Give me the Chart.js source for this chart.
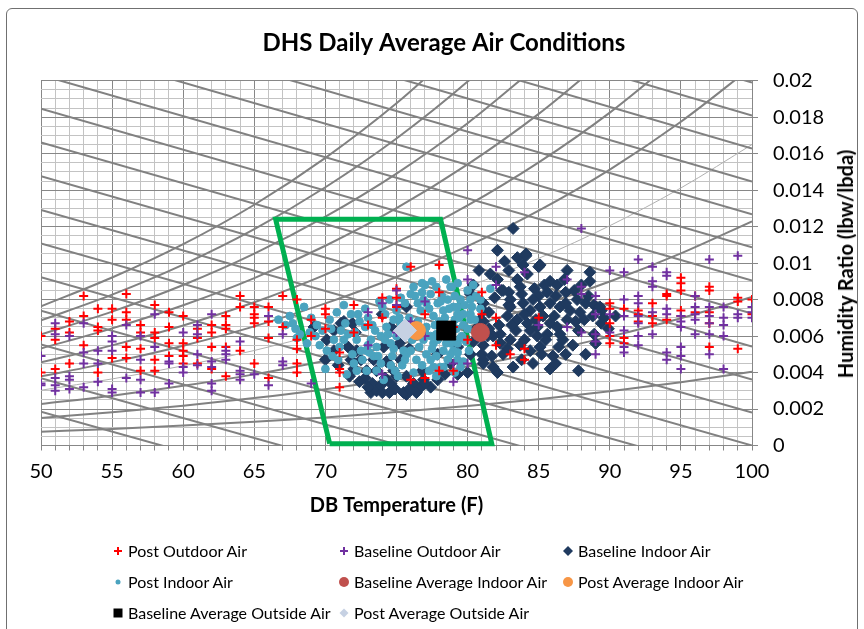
<!DOCTYPE html>
<html><head><meta charset="utf-8">
<script src="https://cdn.jsdelivr.net/npm/chart.js@4.4.0/dist/chart.umd.min.js"></script>
<style>
html,body{margin:0;padding:0;background:#fff;}
#wrap{position:relative;width:864px;height:629px;overflow:hidden;font-family:Lato,'Open Sans',sans-serif;background:#fff;}
#frame{position:absolute;left:6px;top:8px;width:852px;height:660px;border:1px solid #707070;border-radius:6px;box-sizing:border-box;}
#c{position:absolute;left:0;top:0;}
#ytitle{position:absolute;left:845px;top:264px;transform:translate(-50%,-50%) rotate(-90deg);white-space:nowrap;font-weight:bold;font-size:20px;color:#000;}
.lgt{position:absolute;font-size:16px;color:#000;white-space:nowrap;line-height:20px;height:20px;}
.lgm{position:absolute;width:16px;height:16px;}
</style></head><body>
<div id="wrap"><div id="frame"></div><canvas id="c" width="864" height="629"></canvas><div id="ytitle">Humidity Ratio (lbw/lbda)</div><div id="legend"></div></div>
<script>
// ---------------- DATA ----------------
const chartTitle = 'DHS Daily Average Air Conditions';
const xTitle = 'DB Temperature (F)';
const seriesNames = ['Post Outdoor Air','Baseline Outdoor Air','Baseline Indoor Air','Post Indoor Air','Baseline Average Indoor Air','Post Average Indoor Air','Baseline Average Outside Air','Post Average Outside Air'];

// [dry bulb F, humidity ratio lbw/lbda]
const postOutdoorAir = [
[50,.0060],[50,.0040],[51,.0064],[51,.0058],[51,.0042],[52,.0068],[52,.0062],[52,.0045],
[53,.0082],[53,.0071],[53,.0055],[54,.0075],[54,.0065],[54,.0063],[54,.0040],[55,.0075],[55,.0069],[55,.0048],
[56,.0083],[56,.0073],[56,.0069],[56,.0054],[56,.0048],[57,.0066],[57,.0062],[57,.0053],[57,.0041],
[58,.0077],[58,.0062],[58,.0059],[58,.0047],[58,.0041],[59,.0073],[59,.0065],[59,.0056],[59,.0049],
[60,.0071],[60,.0056],[60,.0052],[60,.0049],[60,.0045],[61,.0064],[61,.0059],[61,.0045],
[62,.0066],[62,.0062],[62,.0054],[62,.0042],[63,.0071],[63,.0066],[63,.0064],[63,.0054],[63,.0038],
[64,.0082],[64,.0076],[64,.0052],[65,.0076],[65,.0072],[65,.0070],[65,.0067],[65,.0045],
[66,.0076],[66,.0068],[66,.0059],[66,.0037],[67,.0082],[67,.0065],
[68,.0080],[68,.0058],[68,.0053],[68,.0045],[68,.0040],[69,.0069],[69,.0060],
[70,.0075],[70,.0072],[70,.0064],[71,.0051],[71,.0042],[71,.0040],[71,.0032],[72,.0077],[72,.0062],
[73,.0066],[74,.0081],[74,.0070],[75,.0086],[75,.0081],[75,.0076],[76,.0098],[76,.0036],[77,.0037],[77,.0072],
[78,.0099],[78,.0084],[78,.0041],[79,.0041],[79,.0065],[80,.0058],[81,.0084],[81,.0072],[82,.0070],[82,.0055],
[83,.0050],[84,.0053],[84,.0047],[85,.0070],
[90,.0078],[90,.0075],[90,.0067],[90,.0060],[90,.0056],[91,.0075],[91,.0059],[91,.0056],
[92,.0074],[92,.0072],[92,.0068],[93,.0078],[93,.0071],[93,.0067],[94,.0083],[94,.0082],[94,.0069],
[95,.0092],[95,.0089],[95,.0085],[95,.0074],[95,.0071],[96,.0082],[96,.0073],
[97,.0087],[97,.0085],[97,.0073],[97,.0067],[97,.0054],[99,.0081],[99,.0079],[99,.0053],[100,.0080],[100,.0072]
];
const baselineOutdoorAir = [
[50,.0049],[50,.0034],[50,.0033],[51,.0067],[51,.0061],[51,.0037],[51,.0033],[51,.0030],
[52,.0060],[52,.0038],[52,.0036],[52,.0031],[53,.0067],[53,.0051],[53,.0045],[53,.0032],
[54,.0052],[54,.0045],[54,.0035],[55,.0060],[55,.0057],[55,.0052],[55,.0031],[55,.0029],
[56,.0066],[56,.0037],[57,.0060],[57,.0047],[57,.0036],[57,.0029],[58,.0072],[58,.0054],[58,.0029],
[59,.0046],[59,.0045],[59,.0034],[60,.0062],[60,.0043],[60,.0040],[61,.0066],[61,.0061],[61,.0050],[61,.0044],
[62,.0072],[62,.0046],[62,.0043],[62,.0034],[62,.0030],[63,.0052],[63,.0050],[63,.0047],
[64,.0057],[64,.0041],[64,.0039],[64,.0036],[65,.0039],[66,.0071],[66,.0033],[67,.0061],[67,.0046],[67,.0044],
[69,.0034],[73,.0073],[73,.0055],[74,.0078],[74,.0039],[75,.0085],[75,.0077],[75,.0062],[76,.0068],
[77,.0079],[77,.0060],[79,.0035],[79,.0045],[80,.0107],[80,.0091],[80,.0045],[82,.0098],[82,.0088],
[84,.0095],[85,.0066],[87,.0091],[87,.0065],[88,.0119],[88,.0087],[88,.0083],[88,.0062],
[89,.0082],[89,.0072],[89,.0061],[89,.0057],[89,.0050],[90,.0096],[90,.0072],[90,.0062],
[91,.0095],[91,.0080],[91,.0071],[91,.0063],[91,.0054],[91,.0051],
[92,.0102],[92,.0082],[92,.0078],[92,.0071],[92,.0067],[92,.0060],[92,.0055],
[93,.0098],[93,.0090],[93,.0087],[93,.0073],[93,.0061],[94,.0095],[94,.0093],[94,.0075],[94,.0072],[94,.0051],[94,.0047],
[95,.0071],[95,.0068],[95,.0065],[95,.0054],[95,.0049],[95,.0042],[96,.0082],[96,.0076],[96,.0072],[96,.0069],[96,.0061],
[97,.0102],[97,.0076],[97,.0071],[97,.0067],[97,.0061],[97,.0050],[98,.0076],[98,.0070],[98,.0066],[98,.0060],[98,.0042],
[99,.0104],[99,.0072],[99,.0070],[100,.0076],[100,.0073],[100,.0070]
];
const baselineIndoorAir = [
[83.2,.0119],[82.1,.0107],[84.1,.0105],[83.5,.0103],[80.8,.0096],[82.9,.0096],[84.2,.0094],[85.0,.0098],[82.1,.0091],[83.5,.0091],
[85.8,.0090],[87.0,.0096],[88.6,.0095],[88.6,.0090],[80.2,.0083],[82.4,.0085],[82.9,.0084],[83.8,.0083],[85.0,.0082],[85.6,.0084],
[86.3,.0088],[86.9,.0084],[87.7,.0080],[88.3,.0078],[88.9,.0077],[89.4,.0074],[89.4,.0067],[81.1,.0078],[81.5,.0073],[82.9,.0077],
[84.4,.0074],[85.1,.0076],[85.8,.0078],[86.5,.0076],[87.2,.0074],[87.9,.0073],[82.8,.0071],[83.5,.0069],[84.2,.0067],[84.8,.0069],
[85.3,.0071],[85.8,.0067],[86.3,.0065],[87.0,.0069],[87.8,.0063],[83.4,.0063],[84.4,.0063],[84.9,.0060],[85.6,.0061],[86.5,.0061],
[82.3,.0061],[81.8,.0060],[81.1,.0055],[82.8,.0053],[83.7,.0055],[84.4,.0052],[85.1,.0054],[86.0,.0049],[86.9,.0050],[81.0,.0050],
[81.7,.0049],[83.8,.0047],[83.2,.0043],[82.1,.0040],[85.8,.0042],[87.8,.0041],[80.0,.0040],[81.1,.0045],[83.0,.0080],[83.9,.0078],
[84.6,.0080],[84.0,.0072],[84.9,.0065],[85.5,.0058],[86.1,.0071],[86.7,.0058],[83.1,.0066],[82.2,.0066],[81.5,.0064],[84.0,.0058],
[85.2,.0050],[87.4,.0055],[88.2,.0069],[88.8,.0071],[89.6,.0070],[86.2,.0082],[87.5,.0085],[88.0,.0088],[84.1,.0104],[85.1,.0099],
[90.4,.0071],[89.3,.0076],[88.9,.0061],[82.5,.0085],[83.0,.0076],[80.9,.0069],[81.4,.0060],[82.3,.0056],[81.1,.0047],[81.8,.0043],
[80.2,.0050],[79.3,.0054],[77.9,.0050],[76.9,.0036],[75.7,.0028],[81.1,.0074],[81.1,.0068],[80.6,.0064],[80.4,.0057],
[84.7,.0086],[85.4,.0088],[83.7,.0087],[86.8,.0091],[87.6,.0068],[86.4,.0054],[83.0,.0058],[82.5,.0050],[84.6,.0045],[86.2,.0045],
[88.3,.0050],[89.0,.0056],[83.9,.0099],[82.6,.0101],[81.6,.0094],[80.4,.0088],[81.9,.0081],[86.9,.0078],[89.9,.0064],[88.5,.0082],
[69.2,.0065],[70.0,.0047],[70.1,.0058],[70.6,.0063],[71.1,.0067],[71.3,.0068],[71.9,.0067],[72.1,.0062],[71.6,.0054],[72.2,.0052],
[71.8,.0047],[72.0,.0042],[72.5,.0047],[72.8,.0037],[73.3,.0034],[73.2,.0029],[73.6,.0030],[74.0,.0029],[74.5,.0029],[74.6,.0034],
[75.0,.0038],[75.5,.0029],[75.7,.0038],[76.2,.0034],[76.7,.0032],[77.4,.0032],[75.3,.0047],[74.0,.0072],[74.6,.0065],[75.7,.0076],
[75.9,.0053],[75.2,.0056],[74.1,.0054],[73.4,.0047],[79.3,.0039],[72.9,.0041],[73.6,.0041],[74.2,.0037],[74.8,.0041],
[73.0,.0032],[73.9,.0033],[74.9,.0031],[75.9,.0031],[76.4,.0029],[77.0,.0034],[77.9,.0036],[78.4,.0039],[72.4,.0035],[71.7,.0038],
[70.9,.0044],[70.6,.0052],[74.3,.0046],[76.8,.0041],[78.8,.0045]
];
const postIndoorAir = [
[66.7,.0069],[67.2,.0066],[67.9,.0064],[68.0,.0059],[68.5,.0076],[69.4,.0066],[69.8,.0063],[70.0,.0042],[70.3,.0069],[70.8,.0073],
[71.1,.0063],[71.3,.0058],[71.4,.0067],[71.8,.0072],[72.1,.0062],[72.3,.0072],[72.5,.0052],[72.6,.0047],[72.8,.0065],[73.0,.0070],
[73.2,.0058],[73.4,.0049],[73.5,.0063],[73.6,.0054],[73.9,.0060],[73.9,.0045],[74.2,.0072],[74.3,.0065],[74.5,.0080],[74.6,.0056],
[74.7,.0049],[74.9,.0041],[75.0,.0074],[75.3,.0081],[75.5,.0052],[75.6,.0047],[75.7,.0098],[76.0,.0083],[76.3,.0082],[76.7,.0074],
[76.8,.0084],[77.1,.0078],[77.4,.0083],[77.6,.0071],[77.8,.0087],[78.2,.0082],[78.3,.0074],[78.6,.0080],[78.8,.0087],[79.0,.0076],
[79.3,.0072],[76.6,.0054],[76.9,.0058],[77.1,.0050],[77.4,.0047],[77.6,.0056],[77.8,.0049],[78.1,.0043],[78.3,.0052],[78.6,.0047],
[78.8,.0056],[79.0,.0052],[79.3,.0047],[77.3,.0041],[77.8,.0038],[71.5,.0039],[72.2,.0041],[72.9,.0041],[73.6,.0041],[74.1,.0036],
[74.8,.0069],[75.3,.0067],[76.1,.0058],[76.4,.0063],[77.1,.0065],[77.8,.0061],[77.4,.0060],[78.6,.0065],[79.3,.0056],[72.9,.0052],
[72.2,.0058],[70.6,.0058],[70.1,.0052],[68.7,.0056],[68.2,.0061],[75.7,.0050],[76.4,.0047],[76.8,.0044],[73.7,.0049],
[78.9,.0087],[79.3,.0076],[79.7,.0072],[80.2,.0069],[79.6,.0060],[78.8,.0050],[78.3,.0043],[79.5,.0043],[77.6,.0043],[81.6,.0086],
[80.9,.0080],[80.2,.0080],[79.3,.0089],[79.5,.0080],[79.1,.0069],[79.7,.0066],[79.5,.0059],[79.3,.0051],[79.7,.0046],[79.1,.0040],
[80.2,.0072],[80.5,.0069],[75.9,.0070],[76.5,.0078],[77.9,.0078],[78.0,.0068],[75.0,.0060],[74.2,.0058],[73.0,.0055],[71.9,.0050],
[70.9,.0047],[71.0,.0054],[69.3,.0060],[69.0,.0070],[67.5,.0071],[75.4,.0044],[76.2,.0040],[78.9,.0062],[80.0,.0064],[80.9,.0075],
[80.4,.0088],[77.0,.0088],[73.8,.0079],[72.8,.0075],[71.3,.0077],
[74.0,.0076],[74.4,.0061],[74.8,.0053],[75.2,.0070],[75.6,.0078],[75.8,.0061],[76.0,.0052],[76.2,.0087],[76.5,.0068],[76.9,.0080],
[77.0,.0062],[77.3,.0075],[77.5,.0053],[77.7,.0066],[77.9,.0058],[78.1,.0079],[78.2,.0061],[78.4,.0070],[78.5,.0056],[78.7,.0075],
[78.9,.0058],[79.1,.0082],[79.2,.0064],[79.4,.0070],[79.8,.0077],[80.0,.0085],[79.9,.0057],[80.3,.0076],[80.6,.0082],[80.1,.0052],
[70.4,.0064],[71.6,.0061],[72.4,.0068],[73.3,.0066],[73.1,.0051],[72.0,.0045],[70.5,.0049],[69.6,.0055],[68.9,.0062],[67.7,.0067],
[74.6,.0044],[75.1,.0038],[77.5,.0090],[78.5,.0091],[76.8,.0089]
];
const baselineAvgIndoor = [[80.9,.0062]];
const postAvgIndoor = [[76.4,.0063]];
const baselineAvgOutside = [[78.5,.0063]];
const postAvgOutside = [[75.6,.0063]];

// comfort zone outline
const comfortT = [70.3, 66.5, 78.1, 81.7, 70.3];
const comfortW = [0.0001, 0.0124, 0.0124, 0.0001, 0.0001];

// psychrometric background: constant enthalpy lines (Btu/lb) and their W at 50F and 100F
const enthalpyValues = [14,16,18,20,22,24,26,28,30,32,34,36,38,40,42,44,46];
const enthalpyW50 = [.00185,.00369,.00554,.00739,.00923,.01108,.01292,.01477,.01662,.01846,.02031,.02216,.02400,.02585,.02770,.02954,.03139];
const enthalpyW100 = [-.00905,-.00724,-.00543,-.00362,-.00181,0,.00181,.00362,.00543,.00724,.00905,.01086,.01267,.01447,.01628,.01809,.01990];

// relative humidity curves, W at rhTemps
const rhTemps = [50,55,60,65,70,75,80,85,90,95,100];
const rhLevels = [100,90,80,70,60,50,40,30,20,10];
const rh100 = [.00763,.00921,.01104,.01320,.01577,.01876,.02225];
const rh90 = [.00686,.00827,.00992,.01186,.01416,.01683,.01995,.02357];
const rh80 = [.00609,.00734,.00880,.01052,.01255,.01491,.01767,.02087];
const rh70 = [.00532,.00642,.00769,.00918,.01095,.01301,.01541,.01818,.02140];
const rh60 = [.00456,.00549,.00658,.00785,.00937,.01112,.01316,.01552,.01825,.02142];
const rh50 = [.00379,.00457,.00547,.00653,.00779,.00924,.01093,.01288,.01513,.01775,.02076];
const rh40 = [.00303,.00365,.00437,.00521,.00621,.00737,.00871,.01026,.01205,.01412,.01650];
const rh30 = [.00227,.00273,.00327,.00390,.00465,.00551,.00651,.00766,.00899,.01053,.01229];
const rh20 = [.00151,.00182,.00218,.00260,.00309,.00366,.00433,.00509,.00597,.00698,.00814];
const rh10 = [.00076,.00091,.00109,.00130,.00154,.00183,.00216,.00253,.00297,.00347,.00404];
const rhTable = [rh100,rh90,rh80,rh70,rh60,rh50,rh40,rh30,rh20,rh10];

// axis ranges / ticks
const xMin = 50, xMax = 100, xMinorStep = 1, xMajorStep = 5;
const yMin = 0, yMax = 0.02, yMinorStep = 0.0005, yMajorEvery = 4;

// ---------------- STYLE ----------------
const FONT = 'Lato';
const MAJOR = '#878787', MINOR = '#c3c3c3', PSY = '#818181';
const toXY = a => a.map(p => ({x:p[0], y:p[1]}));

const datasets = [];
enthalpyValues.forEach((h,i) => datasets.push({
  data:[{x:xMin,y:enthalpyW50[i]},{x:xMax,y:enthalpyW100[i]}],
  showLine:true, borderColor:PSY, borderWidth:2, pointRadius:0, fill:false, order:100, clip:0
}));
rhTable.forEach((arr,i) => datasets.push({
  data: arr.map((w,j)=>({x:rhTemps[j], y:w})),
  showLine:true, borderColor: rhLevels[i]===40 ? '#b0b0b0' : PSY, borderWidth: rhLevels[i]===40 ? 1 : 2,
  pointRadius:0, fill:false, order:100, clip:0, cubicInterpolationMode:'monotone'
}));
datasets.push({
  data: comfortT.map((t,i)=>({x:t, y:comfortW[i]})),
  showLine:true, borderColor:'#00b050', borderWidth:5, pointRadius:0, fill:false, order:50, clip:false,
  borderJoinStyle:'miter'
});

const seriesDefs = [
  {data:postOutdoorAir, style:'cross', r:4.5, color:'#ff0000', bw:2, order:7},
  {data:baselineOutdoorAir, style:'cross', r:4.5, color:'#7030a0', bw:2, order:6},
  {data:baselineIndoorAir, style:'rectRot', r:6, color:'#1f3a5f', bw:1, order:9},
  {data:postIndoorAir, style:'circle', r:3.9, color:'#4aa3bf', bw:1, order:8},
  {data:baselineAvgIndoor, style:'circle', r:9, color:'#c0504d', bw:1, order:4},
  {data:postAvgIndoor, style:'circle', r:9, color:'#f79646', bw:1, order:3},
  {data:baselineAvgOutside, style:'rect', r:13.4, color:'#000000', bw:1, order:2},
  {data:postAvgOutside, style:'rectRot', r:11.5, color:'#c6d1e3', bw:1, order:1}
];
seriesDefs.forEach((s,i) => datasets.push({
  label: seriesNames[i], data: toXY(s.data), showLine:false,
  pointStyle:s.style, pointRadius:s.r, pointBorderWidth:s.bw,
  borderColor:s.color, backgroundColor:s.color, pointBorderColor:s.color, pointBackgroundColor:s.color,
  order:s.order
}));

const isMajorY = v => Math.round(v / yMinorStep) % yMajorEvery === 0;

const chart = new Chart(document.getElementById('c'), {
  type:'scatter',
  data:{datasets},
  options:{
    responsive:false, animation:false, events:[],
    layout:{padding:{left:41, right:17, top:0, bottom:0}},
    plugins:{
      legend:{display:false}, tooltip:{enabled:false},
      title:{display:true, text:chartTitle, color:'#000', font:{family:FONT, size:24, weight:'bold', lineHeight:1.2},
             padding:{top:28.6, bottom:23.3}}
    },
    scales:{
      x:{type:'linear', position:'bottom', min:xMin, max:xMax,
        ticks:{stepSize:xMinorStep, autoSkip:false, maxRotation:0, minRotation:0, color:'#000',
               font:{family:FONT, size:20}, padding:9,
               callback:v => (Math.round(v) % xMajorStep === 0) ? String(Math.round(v)) : ''},
        grid:{color:c => (c.tick && Math.round(c.tick.value) % xMajorStep === 0) ? MAJOR : MINOR,
              lineWidth:1, tickLength:5, tickColor:MAJOR},
        border:{color:MAJOR, width:1},
        title:{display:true, text:xTitle, color:'#000', font:{family:FONT, size:20, weight:'bold', lineHeight:1.2},
               padding:{top:0, bottom:111}},
        afterFit:s => { s.height = 183.5; }
      },
      y:{type:'linear', position:'right', min:yMin, max:yMax,
        ticks:{stepSize:yMinorStep, autoSkip:false, color:'#000', font:{family:FONT, size:20}, padding:15,
               callback:v => isMajorY(v) ? String(+(Math.round(v / yMinorStep) * yMinorStep).toFixed(4)) : ''},
        grid:{color:c => (c.tick && isMajorY(c.tick.value)) ? MAJOR : MINOR, lineWidth:1, tickLength:6,
              tickColor:c => (c.tick && isMajorY(c.tick.value)) ? MAJOR : 'rgba(0,0,0,0)'},
        border:{color:MAJOR, width:1},
        afterFit:s => { s.width = 95; }
      }
    }
  }
});

// ---------------- HTML legend built from the series ----------------
const legendMarkers = [
  {style:'cross', size:8}, {style:'cross', size:8}, {style:'diamond', size:10}, {style:'circle', size:5},
  {style:'circle', size:10}, {style:'circle', size:10}, {style:'square', size:9}, {style:'diamond', size:9}
];
const legendColX = [118, 344, 568];
const legendRowY = [551, 582, 613];
const lg = document.getElementById('legend');
seriesNames.forEach((name,i) => {
  const col = i % 3, row = Math.floor(i / 3);
  const mx = legendColX[col], my = legendRowY[row];
  const cv = document.createElement('canvas');
  cv.width = 16; cv.height = 16; cv.className = 'lgm';
  cv.style.left = (mx - 8) + 'px'; cv.style.top = (my - 8) + 'px';
  const g = cv.getContext('2d'), m = legendMarkers[i], col0 = seriesDefs[i].color, h = m.size / 2;
  g.fillStyle = col0; g.strokeStyle = col0;
  if (m.style === 'cross') { g.lineWidth = 2; g.beginPath(); g.moveTo(8-h,8); g.lineTo(8+h,8); g.moveTo(8,8-h); g.lineTo(8,8+h); g.stroke(); }
  else if (m.style === 'diamond') { g.beginPath(); g.moveTo(8,8-h); g.lineTo(8+h,8); g.lineTo(8,8+h); g.lineTo(8-h,8); g.closePath(); g.fill(); }
  else if (m.style === 'circle') { g.beginPath(); g.arc(8,8,h,0,Math.PI*2); g.fill(); }
  else { g.fillRect(8-h,8-h,m.size,m.size); }
  lg.appendChild(cv);
  const t = document.createElement('div');
  t.className = 'lgt'; t.textContent = name;
  t.style.left = (mx + 10) + 'px'; t.style.top = (my - 10) + 'px';
  lg.appendChild(t);
});
</script>
</body></html>
